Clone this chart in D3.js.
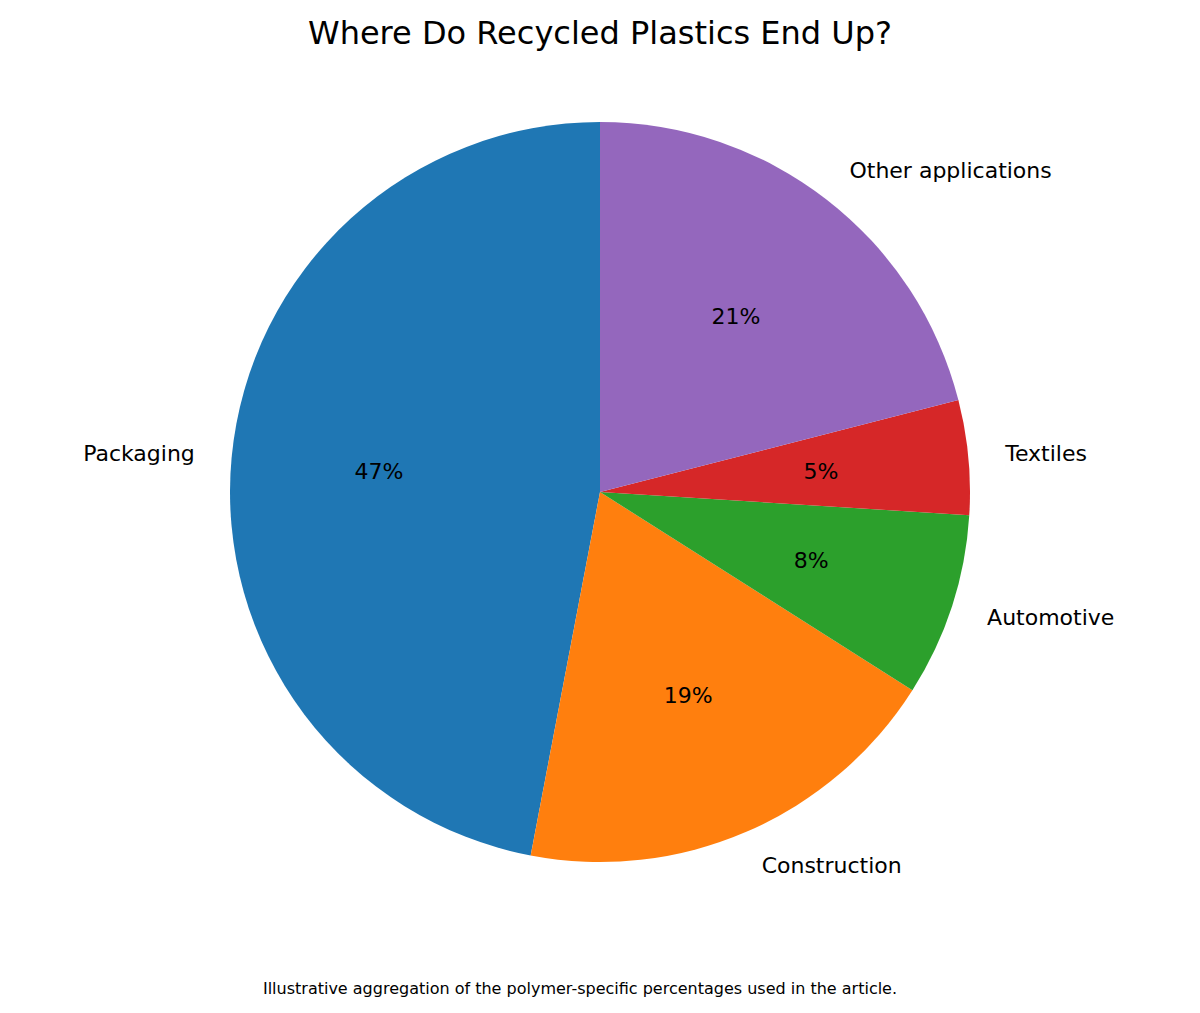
<!DOCTYPE html>
<html><head><meta charset="utf-8">
<script src="https://cdn.jsdelivr.net/npm/d3@7"></script>
<style>body{margin:0;background:#fff}</style></head>
<body><svg id="c" width="1200" height="1013"></svg>
<script>
const categories = ["Packaging","Construction","Automotive","Textiles","Other applications"];
const values = [47,19,8,5,21];
const colors = ["#1f77b4","#ff7f0e","#2ca02c","#d62728","#9467bd"];

const svg = d3.select("#c");
const cx = 600, cy = 492, r = 370;
const font = "DejaVu Sans, sans-serif";
const total = d3.sum(values);
const ang = d3.scaleLinear().domain([0,total]).range([0,2*Math.PI]);
const arc = d3.arc().innerRadius(0).outerRadius(r);
const g = svg.append("g").attr("transform",`translate(${cx},${cy})`);
let cum = 0;
values.forEach((v,i)=>{
  const s = -ang(cum+v), e = -ang(cum);
  g.append("path").attr("d",arc({startAngle:s,endAngle:e})).attr("fill",colors[i]);
  const mid = Math.PI/2 + ang(cum+v/2);
  const lx = 1.1*r*Math.cos(mid), ly = -1.1*r*Math.sin(mid);
  g.append("text").attr("x",lx).attr("y",ly).attr("dy","0.35em")
    .attr("text-anchor", lx<0?"end":"start").attr("font-family",font).attr("font-size",22)
    .text(categories[i]);
  const px = 0.6*r*Math.cos(mid), py = -0.6*r*Math.sin(mid);
  g.append("text").attr("x",px).attr("y",py).attr("dy","0.35em")
    .attr("text-anchor","middle").attr("font-family",font).attr("font-size",22)
    .text(Math.round(v/total*100)+"%");
  cum += v;
});
svg.append("text").attr("x",600).attr("y",44).attr("text-anchor","middle")
  .attr("font-family",font).attr("font-size",32).text("Where Do Recycled Plastics End Up?");
svg.append("text").attr("x",580).attr("y",994).attr("text-anchor","middle")
  .attr("font-family",font).attr("font-size",16)
  .text("Illustrative aggregation of the polymer-specific percentages used in the article.");
</script></body></html>
